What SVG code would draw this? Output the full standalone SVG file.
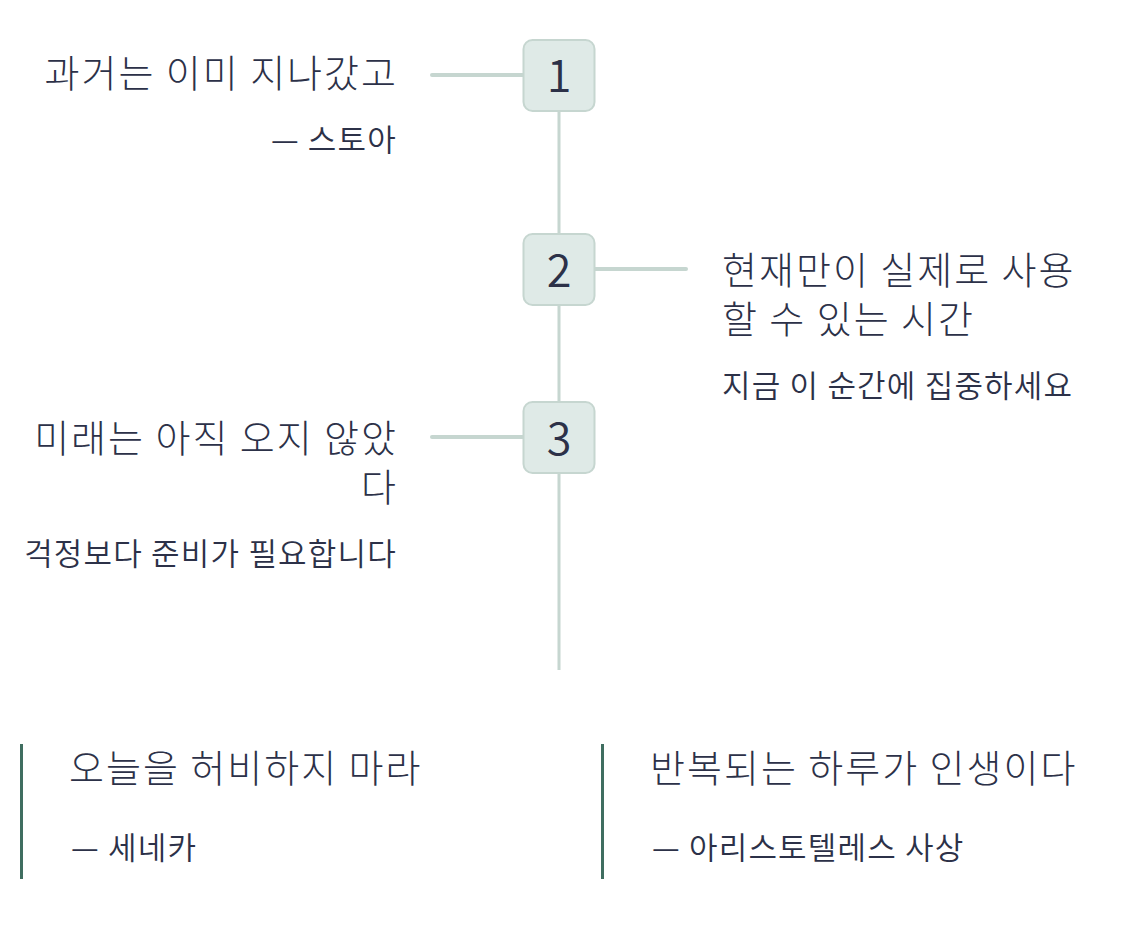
<svg xmlns="http://www.w3.org/2000/svg" width="1141" height="929" viewBox="0 0 1141 929">
<style>
.main{font-family:"Noto Sans CJK KR","Noto Sans",sans-serif;font-size:38px;font-weight:300;fill:#2c3148;letter-spacing:2px}
.sub{font-family:"Noto Sans CJK KR","Noto Sans",sans-serif;font-size:31px;font-weight:350;fill:#2c3148;letter-spacing:1.2px}
.num{font-family:"Noto Sans CJK KR","Noto Sans",sans-serif;font-size:45px;font-weight:350;fill:#2c3148;text-anchor:middle}
.box{fill:#dfeae7;stroke:#c6d6d0;stroke-width:2}
.conn{stroke:#c6d6d0;stroke-width:4;stroke-linecap:round;fill:none}
.spine{stroke:#c6d6d0;stroke-width:3;fill:none}
.bar{stroke:#3f6e60;stroke-width:3}
.r{text-anchor:end}
</style>
<rect width="1141" height="929" fill="#ffffff"/>
<g id="connectors">
<line class="spine" x1="559" y1="111" x2="559" y2="670"/>
<line class="conn" x1="432" y1="75" x2="523" y2="75"/>
<line class="conn" x1="595" y1="269" x2="686" y2="269"/>
<line class="conn" x1="432" y1="437" x2="523" y2="437"/>
</g>
<g id="node1">
<rect class="box" x="523.5" y="40" width="71" height="71" rx="9"/>
<text class="num" x="559" y="92">1</text>
<text class="main r" x="398" y="87">과거는 이미 지나갔고</text>
<text class="sub r" x="397" y="151">— 스토아</text>
</g>
<g id="node2">
<rect class="box" x="523.5" y="234" width="71" height="71" rx="9"/>
<text class="num" x="559" y="287">2</text>
<text class="main" x="722" y="284">현재만이 실제로 사용</text>
<text class="main" x="722" y="333">할 수 있는 시간</text>
<text class="sub" x="722" y="397">지금 이 순간에 집중하세요</text>
</g>
<g id="node3">
<rect class="box" x="523.5" y="402" width="71" height="71" rx="9"/>
<text class="num" x="559" y="455">3</text>
<text class="main r" x="398" y="452">미래는 아직 오지 않았</text>
<text class="main r" x="398" y="501">다</text>
<text class="sub r" x="397" y="565">걱정보다 준비가 필요합니다</text>
</g>
<g id="quote1">
<line class="bar" x1="21.5" y1="744" x2="21.5" y2="879"/>
<text class="main" x="69" y="782">오늘을 허비하지 마라</text>
<text class="sub" x="71" y="859">— 세네카</text>
</g>
<g id="quote2">
<line class="bar" x1="602.5" y1="744" x2="602.5" y2="879"/>
<text class="main" x="650" y="782">반복되는 하루가 인생이다</text>
<text class="sub" x="652" y="859">— 아리스토텔레스 사상</text>
</g>
</svg>
